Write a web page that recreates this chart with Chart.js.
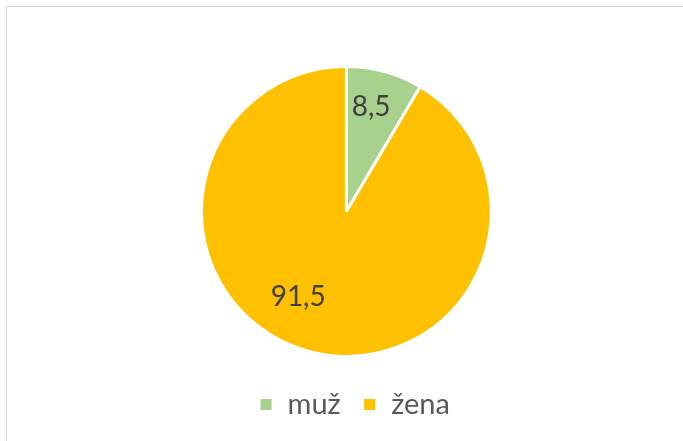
<!DOCTYPE html>
<html>
<head>
<meta charset="utf-8">
<script src="https://cdn.jsdelivr.net/npm/chart.js@4/dist/chart.umd.min.js"></script>
<style>
  html, body { margin: 0; padding: 0; background: #fff; overflow: hidden; }
  #frame {
    position: absolute; left: 6px; top: 6px; width: 720px; height: 480px;
    border: 1.5px solid #d9d9d9; box-sizing: border-box;
  }
  #chart { position: absolute; left: 0; top: 0; }
</style>
</head>
<body>
<div id="frame"></div>
<canvas id="chart" width="683" height="441"></canvas>
<script>
// Data
const labels = ['muž', 'žena'];
const values = [8.5, 91.5];
const colors = ['#A9D18E', '#FFC000'];

// where the value labels sit inside each slice (fraction of radius, extra angle in degrees)
const labelPlacement = [{ r: 0.74, turn: -2 }, { r: 0.68, turn: 14 }];

// draws the numbers inside the slices, with a comma as decimal mark
const sliceLabels = {
  id: 'sliceLabels',
  afterDatasetsDraw(chart) {
    const ctx = chart.ctx;
    const meta = chart.getDatasetMeta(0);
    ctx.save();
    ctx.font = '28px Lato';
    ctx.fillStyle = '#404040';
    ctx.textAlign = 'center';
    ctx.textBaseline = 'middle';
    meta.data.forEach(function(arc, i) {
      const p = arc.getProps(['x', 'y', 'startAngle', 'endAngle', 'outerRadius']);
      const place = labelPlacement[i];
      const mid = (p.startAngle + p.endAngle) / 2 + place.turn * Math.PI / 180;
      const x = p.x + Math.cos(mid) * p.outerRadius * place.r;
      const y = p.y + Math.sin(mid) * p.outerRadius * place.r;
      ctx.fillText(values[i].toFixed(1).replace('.', ','), x, y);
    });
    ctx.restore();
  }
};

const ctx = document.getElementById('chart').getContext('2d');
window.chart = new Chart(ctx, {
  type: 'pie',
  data: {
    labels: labels,
    datasets: [{
      data: values,
      backgroundColor: colors,
      borderColor: '#ffffff',
      borderWidth: 3
    }]
  },
  options: {
    responsive: false,
    animation: false,
    layout: {
      padding: { top: 65, bottom: 12, left: 26, right: 0 }
    },
    plugins: {
      // empty title on the right just nudges the pie a bit left of the legend
      title: {
        display: true, text: '', position: 'right', fullSize: false,
        font: { size: 1 }, padding: { top: 15, bottom: 0 }
      },
      legend: {
        display: true,
        position: 'bottom',
        title: { display: true, text: '', font: { size: 1 }, padding: { top: 9, bottom: 0 } },
        labels: {
          boxWidth: 14,
          boxHeight: 14,
          padding: 22,
          color: '#595959',
          font: { family: 'Lato', size: 29 }
        }
      },
      tooltip: { enabled: false }
    }
  },
  plugins: [sliceLabels]
});
</script>
</body>
</html>
